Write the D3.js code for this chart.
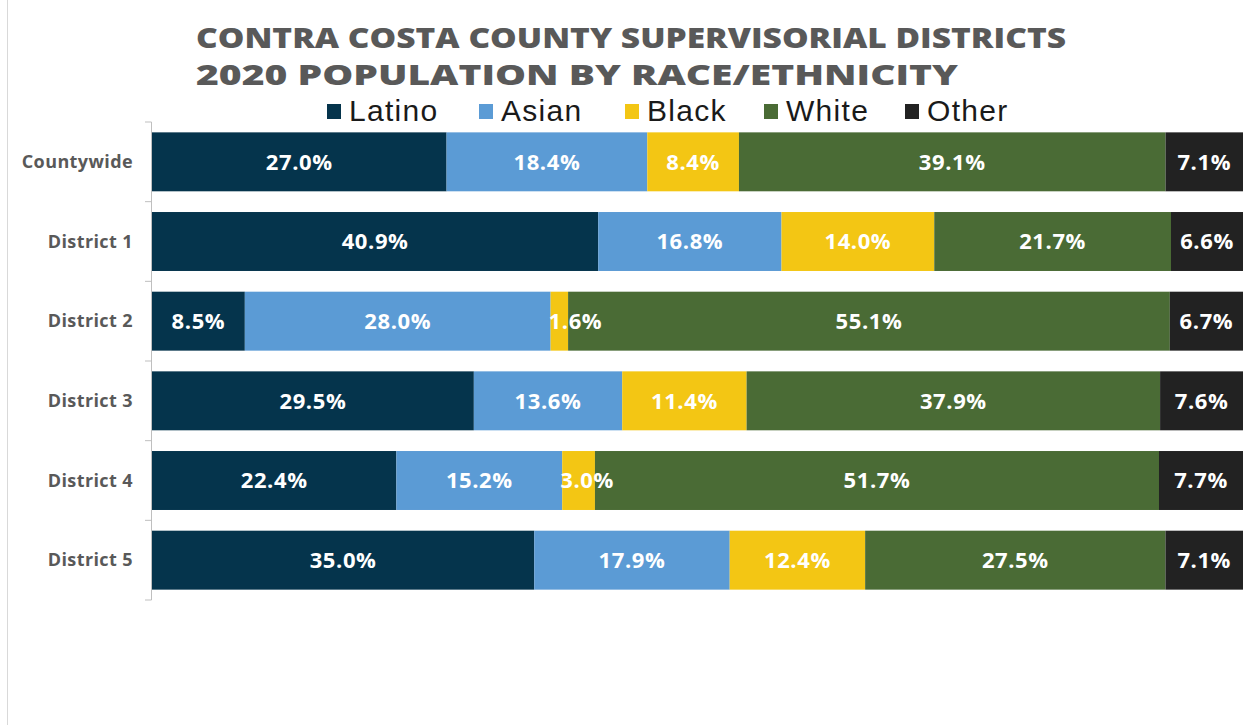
<!DOCTYPE html>
<html>
<head>
<meta charset="utf-8">
<script src="https://cdn.jsdelivr.net/npm/d3@7"></script>
<style>
  body { margin: 0; background: #fff; }
  svg { display: block; }
</style>
</head>
<body>
<div id="chart"></div>
<script>
// data
var districts = ["Countywide", "District 1", "District 2", "District 3", "District 4", "District 5"];
var groups = ["Latino", "Asian", "Black", "White", "Other"];
var latino = [27.0, 40.9, 8.5, 29.5, 22.4, 35.0];
var asian  = [18.4, 16.8, 28.0, 13.6, 15.2, 17.9];
var black  = [8.4, 14.0, 1.6, 11.4, 3.0, 12.4];
var white  = [39.1, 21.7, 55.1, 37.9, 51.7, 27.5];
var other  = [7.1, 6.6, 6.7, 7.6, 7.7, 7.1];
var colors = ["#05344c", "#5b9bd5", "#f3c614", "#4a6b35", "#222222"];

var rows = districts.map(function(d, i) {
  return { name: d, Latino: latino[i], Asian: asian[i], Black: black[i], White: white[i], Other: other[i] };
});

var W = 1253, H = 725;
var margin = {top: 122, right: 10, bottom: 125, left: 152},
    width = W - margin.left - margin.right,
    height = H - margin.top - margin.bottom;

var svg = d3.select("#chart").append("svg")
    .attr("width", W)
    .attr("height", H);

// left frame line
svg.append("line")
  .attr("x1", 7.5).attr("x2", 7.5)
  .attr("y1", 0).attr("y2", H)
  .attr("stroke", "#d9d9d9");

// title
var title = ["CONTRA COSTA COUNTY SUPERVISORIAL DISTRICTS", "2020 POPULATION BY RACE/ETHNICITY"];
var titleLen = [870, 762];
title.forEach(function(t, i) {
  svg.append("text")
    .attr("x", 196)
    .attr("y", 48 + i * 37)
    .attr("textLength", titleLen[i])
    .attr("lengthAdjust", "spacingAndGlyphs")
    .style("font-family", "'Open Sans', sans-serif")
    .style("font-weight", 800)
    .style("font-size", "29px")
    .style("fill", "#595959")
    .text(t);
});

// legend
var legendX = [327, 479, 625, 764, 905];
var legend = svg.append("g");
groups.forEach(function(g, i) {
  legend.append("rect")
    .attr("x", legendX[i]).attr("y", 104)
    .attr("width", 14).attr("height", 15)
    .attr("fill", colors[i]);
  legend.append("text")
    .attr("x", legendX[i] + 22)
    .attr("y", 121)
    .style("font-family", "'Liberation Sans', Arial, sans-serif")
    .style("font-size", "30px")
    .style("letter-spacing", "1.3px")
    .style("fill", "#1a1a1a")
    .text(g);
});

var g = svg.append("g")
  .attr("transform", "translate(" + margin.left + "," + margin.top + ")");

var y = d3.scaleBand()
  .domain(districts)
  .range([0, height])
  .paddingInner(0.26)
  .paddingOuter(0.13);

var x = d3.scaleLinear()
  .domain([0, 1])
  .range([0, width]);

var stack = d3.stack()
  .keys(groups)
  .offset(d3.stackOffsetExpand);
var series = stack(rows);

// axis: vertical line with ticks at band boundaries
g.append("line")
  .attr("x1", -0.5).attr("x2", -0.5)
  .attr("y1", 0).attr("y2", height)
  .attr("stroke", "#bfbfbf");
d3.range(districts.length + 1).forEach(function(i) {
  g.append("line")
    .attr("x1", -7).attr("x2", -0.5)
    .attr("y1", i * height / districts.length).attr("y2", i * height / districts.length)
    .attr("stroke", "#bfbfbf");
});

g.selectAll(".cat")
  .data(districts)
  .enter().append("text")
    .attr("class", "cat")
    .attr("x", -19)
    .attr("y", function(d) { return y(d) + y.bandwidth() / 2; })
    .attr("dy", "0.35em")
    .attr("text-anchor", "end")
    .style("font-family", "'Open Sans', sans-serif")
    .style("font-weight", 700)
    .style("font-size", "18px")
    .style("letter-spacing", "0.4px")
    .style("fill", "#595959")
    .text(function(d) { return d; });

// bars
var layer = g.selectAll(".layer")
  .data(series)
  .enter().append("g")
    .attr("class", "layer")
    .attr("fill", function(d, i) { return colors[i]; });

layer.selectAll("rect")
  .data(function(d) { return d; })
  .enter().append("rect")
    .attr("x", function(d) { return x(d[0]); })
    .attr("y", function(d) { return y(d.data.name); })
    .attr("width", function(d) { return x(d[1]) - x(d[0]); })
    .attr("height", y.bandwidth());

// labels
series.forEach(function(s) {
  s.forEach(function(d) {
    var v = d.data[s.key];
    var w = x(d[1]) - x(d[0]);
    var t = g.append("text")
      .attr("y", y(d.data.name) + y.bandwidth() / 2)
      .attr("dy", "0.36em")
      .style("font-family", "'Open Sans', sans-serif")
      .style("font-weight", 700)
      .style("font-size", "22px")
      .style("letter-spacing", "0.6px")
      .style("fill", "#fff")
      .text(v.toFixed(1) + "%");
    var tw = t.node().getComputedTextLength();
    if (tw > w) {
      t.attr("x", x(d[0]) - 2).attr("text-anchor", "start");
    } else {
      t.attr("x", x(d[0]) + w / 2).attr("text-anchor", "middle");
    }
  });
});
</script>
</body>
</html>
